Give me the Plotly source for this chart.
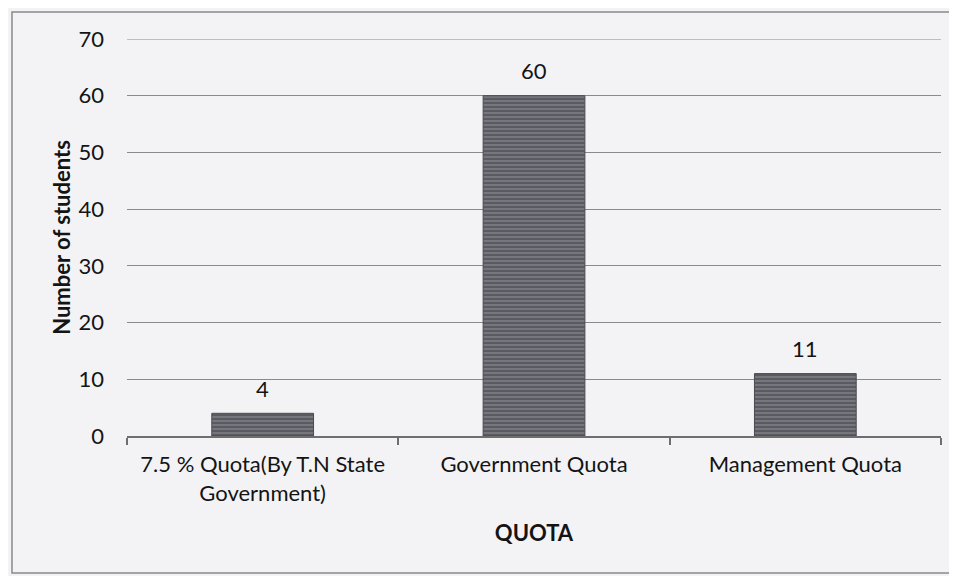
import plotly.graph_objects as go

categories = ["7.5 % Quota(By T.N State<br>Government)", "Government Quota", "Management Quota"]
students = [4, 60, 11]
y_ticks = [0, 10, 20, 30, 40, 50, 60, 70]

FONT = "Lato"
bg = "#f3f3f5"
txt = "#141414"
FS = 22

fig = go.Figure()
fig.add_trace(go.Bar(
    x=categories, y=students,
    width=0.375,
    marker=dict(color="#5c5c64", line=dict(color="#4a4a50", width=1),
                pattern=dict(shape="-", fgcolor="#b8b8bc", bgcolor="#5a5a62", size=4, solidity=0.3)),
    cliponaxis=False,
))
for c, v in zip(categories, students):
    fig.add_annotation(x=c, y=v, text=str(v), showarrow=False, yanchor="middle", yshift=25,
                       font=dict(family=FONT, size=FS, color=txt))

fig.update_layout(
    width=949, height=568,
    margin=dict(l=119, r=16, t=31, b=140),
    paper_bgcolor=bg, plot_bgcolor=bg,
    font=dict(family=FONT, size=FS, color=txt),
    showlegend=False,
    bargap=0.625,
)
fig.update_xaxes(
    showline=True, linecolor="#6e6e6e", linewidth=2,
    ticks="outside", tickson="boundaries", ticklen=7, tickcolor="#6e6e6e", tickwidth=2,
    showgrid=False, ticklabelstandoff=8,
    tickfont=dict(family=FONT, size=FS, color=txt),
    title=dict(text="<b>QUOTA</b>", font=dict(family=FONT, size=FS, color=txt), standoff=21),
)
fig.update_yaxes(
    range=[0, 70], tickvals=y_ticks,
    showgrid=True, gridcolor="#8a8a8a", gridwidth=1,
    showline=False, zeroline=False,
    ticks="", ticklabelstandoff=22,
    tickfont=dict(family=FONT, size=FS, color=txt),
    title=dict(text="<b>Number of students</b>", font=dict(family=FONT, size=FS, color=txt), standoff=1),
)
fig.add_shape(type="line", xref="paper", yref="y", x0=0, x1=1, y0=y_ticks[-1], y1=y_ticks[-1],
              line=dict(color="#8a8a8a", width=1), layer="below")
fig.add_shape(type="rect", xref="paper", yref="paper",
              x0=-0.1413, x1=1.03, y0=-0.345, y1=1.068,
              line=dict(color="#8a8a8a", width=1.5), layer="below")

fig.write_html("out.html")
